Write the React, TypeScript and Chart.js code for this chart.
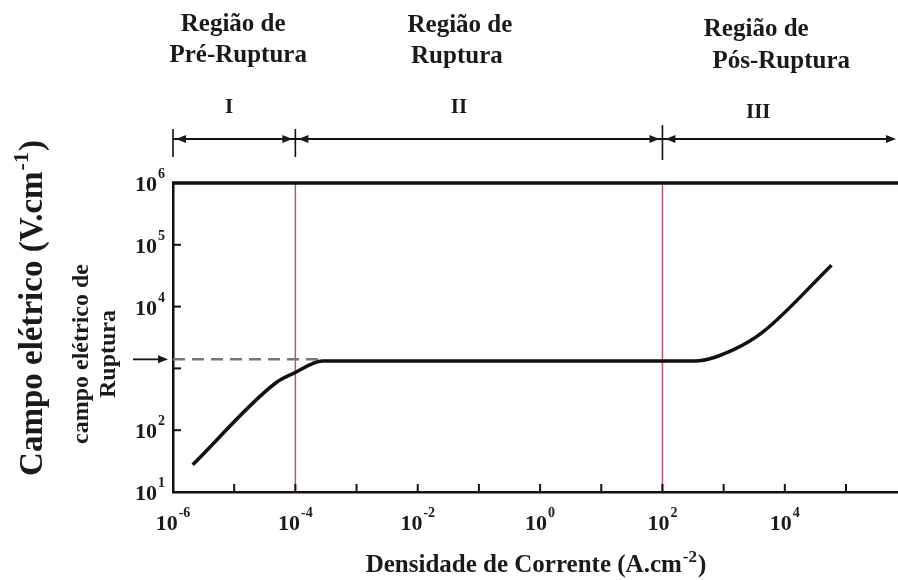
import { useEffect, useRef } from 'react';
import { Chart, registerables } from 'chart.js';

Chart.register(...registerables);

// ---- data ----
const currentDensity = [2.1e-6, 4.7e-5, 9.3e-5, 2.8e-4, 340, 1430, 4400, 5.8e4];
const electricField = [27.5, 575, 830, 1320, 1320, 2000, 3900, 46800];

const breakdownCurrent = [1e-6, 2.8e-4];
const breakdownField = [1400, 1400];

const regionBounds = [1e-4, 1e2];
const regionNames = [
  ['Região de', 'Pré-Ruptura'],
  ['Região de', 'Ruptura'],
  ['Região de', 'Pós-Ruptura'],
];
const regionNumerals = ['I', 'II', 'III'];

const xMin = 1e-6;
const xMax = Math.pow(10, 5.85);
const yMin = 10;
const yMax = 1e6;

const xTickValues = [1e-6, 1e-4, 1e-2, 1, 1e2, 1e4];
const yTickValues = [10, 100, 1e4, 1e5, 1e6];
const xDecades = [1e-5, 1e-4, 1e-3, 1e-2, 1e-1, 1, 10, 1e2, 1e3, 1e4, 1e5];
const yDecades = [100, 1e3, 1e4, 1e5];

const xTitle: [string, string, string] = ['Densidade de Corrente (A.cm', '-2', ')'];
const yTitle: [string, string, string] = ['Campo elétrico (V.cm', '-1', ')'];
const yNote = ['campo elétrico de', 'Ruptura'];

// ---- helpers ----
const FONT = '"Liberation Serif", "Times New Roman", "DejaVu Serif", serif';
const exponentOf = (v: number) => String(Math.round(Math.log10(v)));
const pow10Text = (v: number) => '10^' + exponentOf(v);

function drawSupText(
  ctx: CanvasRenderingContext2D,
  parts: [string, string, string],
  cx: number,
  baseY: number,
  size: number,
  weight: string,
) {
  const big = `${weight} ${size}px ${FONT}`;
  const small = `${weight} ${Math.round(size * 0.66)}px ${FONT}`;
  ctx.font = big;
  const w1 = ctx.measureText(parts[0]).width;
  const w3 = ctx.measureText(parts[2]).width;
  ctx.font = small;
  const w2 = ctx.measureText(parts[1]).width;
  const total = w1 + w2 + w3 + 2;
  const x0 = cx - total / 2;
  ctx.textAlign = 'left';
  ctx.textBaseline = 'alphabetic';
  ctx.font = big;
  ctx.fillText(parts[0], x0, baseY);
  ctx.font = small;
  ctx.fillText(parts[1], x0 + w1 + 1, baseY - size * 0.42);
  ctx.font = big;
  ctx.fillText(parts[2], x0 + w1 + w2 + 2, baseY);
}

// draws "10" with a raised exponent; align 'center' or 'right' at ax, digits baseline at baseY
function drawPow(ctx: CanvasRenderingContext2D, exp: string, ax: number, baseY: number, align: 'center' | 'right') {
  const big = `bold 22px ${FONT}`;
  const small = `bold 14px ${FONT}`;
  ctx.font = big;
  const w1 = ctx.measureText('10').width;
  ctx.font = small;
  const w2 = ctx.measureText(exp).width;
  const total = w1 + 1 + w2;
  const x0 = align === 'center' ? ax - total / 2 : ax - total;
  ctx.textAlign = 'left';
  ctx.textBaseline = 'alphabetic';
  ctx.font = big;
  ctx.fillText('10', x0, baseY);
  ctx.font = small;
  ctx.fillText(exp, x0 + w1 + 1, baseY - 13);
}

function arrowHead(ctx: CanvasRenderingContext2D, tipX: number, y: number, dir: number) {
  ctx.beginPath();
  ctx.moveTo(tipX, y);
  ctx.lineTo(tipX - dir * 10, y - 4);
  ctx.lineTo(tipX - dir * 10, y + 4);
  ctx.closePath();
  ctx.fill();
}

const annotationPlugin = {
  id: 'annotations',
  afterDraw(chart: any) {
    const ctx: CanvasRenderingContext2D = chart.ctx;
    const { left, right, top, bottom } = chart.chartArea;
    const xs = chart.scales.x;
    const ys = chart.scales.y;
    ctx.save();
    ctx.strokeStyle = '#111';
    ctx.fillStyle = '#1a1a1a';

    // top frame line
    ctx.lineWidth = 3.5;
    ctx.beginPath();
    ctx.moveTo(left - 1, top);
    ctx.lineTo(right, top);
    ctx.stroke();

    // inward tick marks
    ctx.lineWidth = 2;
    xDecades.forEach((v) => {
      const px = xs.getPixelForValue(v);
      ctx.beginPath();
      ctx.moveTo(px, bottom);
      ctx.lineTo(px, bottom - 8);
      ctx.stroke();
    });
    yDecades.forEach((v) => {
      const py = ys.getPixelForValue(v);
      ctx.beginPath();
      ctx.moveTo(left, py);
      ctx.lineTo(left + 8, py);
      ctx.stroke();
    });

    // tick labels (power-of-ten with raised exponent), from the scales' ticks
    xs.ticks.forEach((t: any) => {
      const px = xs.getPixelForValue(t.value);
      drawPow(ctx, exponentOf(t.value), px, bottom + 38, 'center');
    });
    ys.ticks.forEach((t: any) => {
      const py = ys.getPixelForValue(t.value);
      drawPow(ctx, exponentOf(t.value), left - 8, py + 8, 'right');
    });

    // breakdown arrow on the left
    const by = ys.getPixelForValue(breakdownField[0]);
    ctx.lineWidth = 1.8;
    ctx.beginPath();
    ctx.moveTo(left - 40, by);
    ctx.lineTo(left - 10, by);
    ctx.stroke();
    arrowHead(ctx, left - 5, by, 1);

    // region brackets
    const edges = [xMin, ...regionBounds, xMax].map((v) => xs.getPixelForValue(v));
    const ay = 139;
    ctx.lineWidth = 2;
    ctx.beginPath();
    ctx.moveTo(edges[0], ay);
    ctx.lineTo(edges[3] - 4, ay);
    ctx.stroke();
    ctx.lineWidth = 1.6;
    [edges[0], edges[1], edges[2]].forEach((ex, i) => {
      ctx.beginPath();
      ctx.moveTo(ex, i === 2 ? 125 : 129);
      ctx.lineTo(ex, i === 2 ? 160 : 157);
      ctx.stroke();
    });
    arrowHead(ctx, edges[0] + 3, ay, -1);
    arrowHead(ctx, edges[1] - 3, ay, 1);
    arrowHead(ctx, edges[1] + 3, ay, -1);
    arrowHead(ctx, edges[2] - 3, ay, 1);
    arrowHead(ctx, edges[2] + 3, ay, -1);
    arrowHead(ctx, edges[3] - 2, ay, 1);

    // region labels
    const labelOffsets = [
      { dx: [-1, 4, -5], base: [31, 62, 113] },
      { dx: [-19, -22, -20], base: [32, 63, 113] },
      { dx: [-24, 1, -22], base: [36, 68, 118] },
    ];
    ctx.textAlign = 'center';
    ctx.textBaseline = 'alphabetic';
    regionNames.forEach((lines, i) => {
      const cx = (edges[i] + edges[i + 1]) / 2;
      const o = labelOffsets[i];
      ctx.font = `bold 25px ${FONT}`;
      ctx.fillText(lines[0], cx + o.dx[0], o.base[0]);
      ctx.fillText(lines[1], cx + o.dx[1], o.base[1]);
      ctx.font = `bold 21px ${FONT}`;
      ctx.fillText(regionNumerals[i], cx + o.dx[2], o.base[2]);
    });

    // y titles
    ctx.save();
    ctx.translate(42, 308);
    ctx.rotate(-Math.PI / 2);
    drawSupText(ctx, yTitle, 0, 0, 33, 'bold');
    ctx.restore();

    ctx.save();
    ctx.translate(88, 354);
    ctx.rotate(-Math.PI / 2);
    ctx.font = `bold 24px ${FONT}`;
    ctx.textAlign = 'center';
    ctx.textBaseline = 'alphabetic';
    ctx.fillText(yNote[0], 0, 0);
    ctx.fillText(yNote[1], 0, 27);
    ctx.restore();

    // x title
    drawSupText(ctx, xTitle, 536, 572, 25, 'bold');

    ctx.restore();
  },
};

export default function App() {
  const ref = useRef<HTMLCanvasElement | null>(null);

  useEffect(() => {
    if (!ref.current) return;
    const chart = new Chart(ref.current, {
      type: 'line',
      data: {
        datasets: [
          {
            label: 'Campo elétrico',
            data: currentDensity.map((x, i) => ({ x, y: electricField[i] })),
            borderColor: '#111',
            borderWidth: 3.5,
            pointRadius: 0,
            cubicInterpolationMode: 'monotone',
          },
          {
            label: 'Campo elétrico de ruptura',
            data: breakdownCurrent.map((x, i) => ({ x, y: breakdownField[i] })),
            borderColor: '#777',
            borderWidth: 2.5,
            borderDash: [12, 7],
            pointRadius: 0,
          },
          ...regionBounds.map((b) => ({
            label: 'limite',
            data: [
              { x: b, y: yMin },
              { x: b, y: yMax },
            ],
            borderColor: 'rgba(170,60,80,0.85)',
            borderWidth: 1.5,
            pointRadius: 0,
          })),
        ],
      },
      options: {
        animation: false,
        responsive: false,
        events: [],
        layout: { padding: { top: 183, left: 0, right: 0, bottom: 0 } },
        plugins: { legend: { display: false }, tooltip: { enabled: false } },
        scales: {
          x: {
            type: 'logarithmic',
            position: 'bottom',
            min: xMin,
            max: xMax,
            grid: { display: false, drawTicks: false },
            border: { display: true, color: '#111', width: 2.5 },
            afterBuildTicks: (s: any) => {
              s.ticks = xTickValues.map((v) => ({ value: v }));
            },
            afterFit: (s: any) => {
              s.height = 88;
            },
            ticks: {
              display: false,
              autoSkip: false,
              callback: (v: any) => pow10Text(Number(v)),
            },
          },
          y: {
            type: 'logarithmic',
            min: yMin,
            max: yMax,
            grid: { display: false, drawTicks: false },
            border: { display: true, color: '#111', width: 2.5 },
            afterBuildTicks: (s: any) => {
              s.ticks = yTickValues.map((v) => ({ value: v }));
            },
            afterFit: (s: any) => {
              s.width = 173;
            },
            ticks: {
              display: false,
              autoSkip: false,
              callback: (v: any) => pow10Text(Number(v)),
            },
          },
        },
      } as any,
      plugins: [annotationPlugin],
    });
    return () => chart.destroy();
  }, []);

  return (
    <div style={{ position: 'absolute', left: 0, top: 0, width: 898, height: 580, background: '#fff' }}>
      <canvas ref={ref} width={898} height={580} style={{ display: 'block' }} />
    </div>
  );
}
